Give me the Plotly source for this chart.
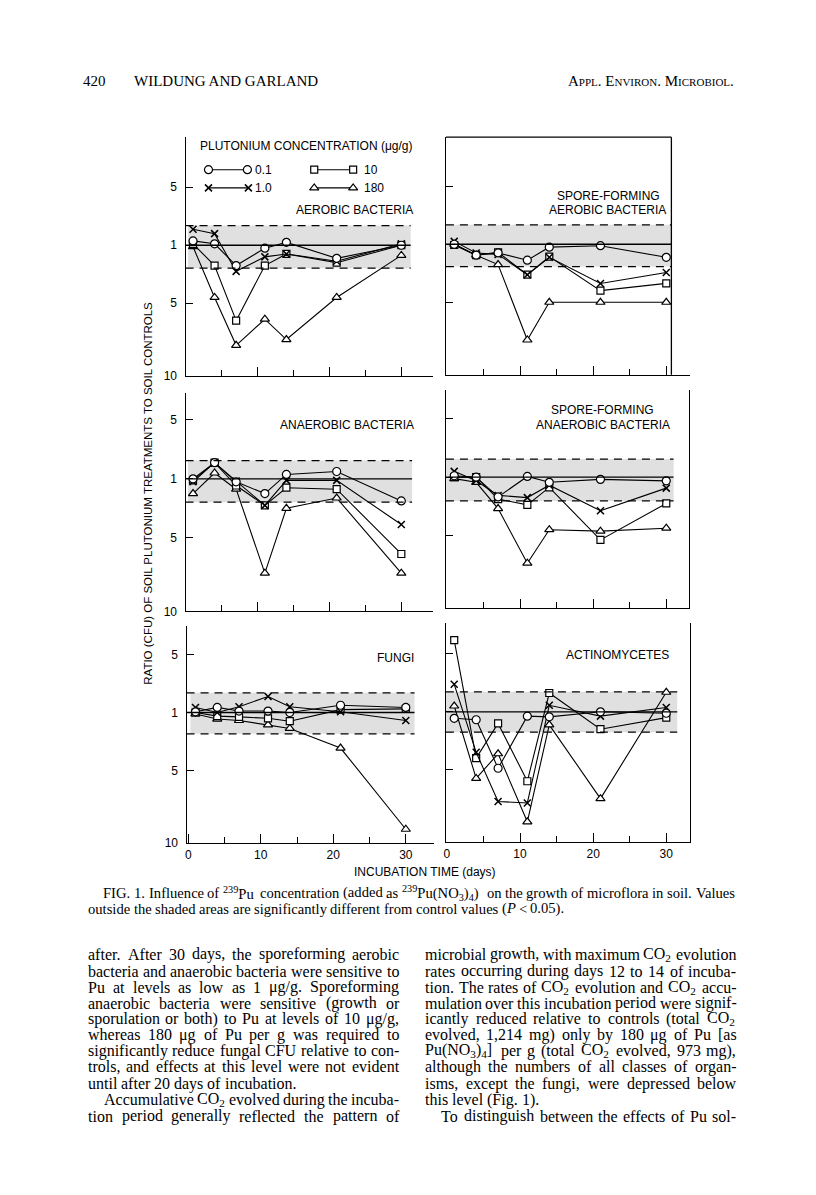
import re
import plotly.graph_objects as go

W, H = 816, 1195

# ---------------- data ----------------
days = [1, 4, 7, 11, 14, 21, 30]
concentrations = ["0.1", "1.0", "10", "180"]

# signed fold change vs. soil control: f >= 1 -> ratio f ; f <= -1 -> ratio 1/|f|
aerobic_01 = [1.3, 1.1, -2.4, -1.2, 1.2, -1.9, 1.0]
aerobic_1 = [2.1, 1.8, -2.8, -1.8, -1.6, -2.1, 1.1]
aerobic_10 = [1.1, -2.4, -6.2, -2.4, -1.6, -2.2, 1.0]
aerobic_180 = [-1.1, -4.6, -7.9, -6.1, -7.5, -4.6, -1.7]

spore_aerobic_01 = [1.0, -1.75, -1.6, -2.1, -1.2, -1.1, -1.9]
spore_aerobic_1 = [1.2, -1.6, -1.7, -3.1, -1.9, -3.7, -2.95]
spore_aerobic_10 = [-1.05, -1.75, -1.55, -3.1, -1.85, -4.2, -3.7]
spore_aerobic_180 = [1.0, -1.75, -2.4, -7.6, -5.0, -5.0, -5.0]

anaerobic_01 = [1.0, 2.1, -1.2, -2.0, 1.3, 1.5, -2.5]
anaerobic_1 = [-1.2, 2.1, -1.15, -2.8, -1.1, -1.1, -4.1]
anaerobic_10 = [-1.1, 2.1, -1.45, -2.8, -1.6, -1.7, -6.1]
anaerobic_180 = [-2.0, 1.4, -1.7, -7.4, -3.0, -2.3, -7.4]

spore_anaerobic_01 = [1.1, 1.0, -2.35, 1.05, -1.35, -1.15, -1.25]
spore_anaerobic_1 = [1.4, -1.25, -2.25, -2.4, -1.55, -3.3, -1.75]
spore_anaerobic_10 = [1.0, 1.0, -2.5, -2.9, -1.7, -5.3, -2.8]
spore_anaerobic_180 = [-1.1, -1.35, -3.15, -6.9, -4.6, -4.7, -4.5]

fungi_01 = [1.05, 1.35, 1.1, 1.1, 1.0, 1.5, 1.35]
fungi_1 = [1.35, 1.0, 1.4, 2.1, 1.4, 1.05, -1.55]
fungi_10 = [1.0, -1.25, -1.3, -1.4, -1.6, 1.2, 1.25]
fungi_180 = [-1.1, -1.45, -1.55, -1.85, -2.1, -3.45, -9.05]

actino_01 = [-1.45, -1.55, -4.9, -1.3, -1.35, 1.0, -1.1]
actino_1 = [2.9, -3.8, -7.2, -7.3, 1.45, -1.3, 1.3]
actino_10 = [5.95, -4.2, -1.8, -5.8, 2.3, -2.2, -1.4]
actino_180 = [1.4, -5.6, -3.9, -8.6, -1.9, -7.0, 2.35]

# significance limits (upper, lower) of the shaded band, signed fold
limits_aerobic = (2.36, -2.58)
limits_spore_aerobic = (2.34, -2.54)
limits_anaerobic = (2.24, -2.58)
limits_spore_anaerobic = (2.24, -2.63)
limits_fungi = (2.36, -2.47)
limits_actino = (2.38, -2.41)

y_tick_vals = [5, 1, -5, -10]
y_tick_text = ["5", "1", "5", "10"]
x_tick_vals = [0, 10, 20, 30]
x_tick_text = ["0", "10", "20", "30"]
x_minor_vals = [5, 15, 25]


def pos(f):
    """signed fold -> linear axis position (1 at zero)"""
    return f - 1 if f >= 1 else f + 1


SANS = "Liberation Sans, Arial, Helvetica, sans-serif"
SERIF = "Liberation Serif, Times New Roman, serif"

# ---------------- panel layout ----------------
panels = [
    dict(series=[aerobic_01, aerobic_1, aerobic_10, aerobic_180], lim=limits_aerobic,
         xpx=(184, 432), ypx=(138, 378), y1=246.7, d0=184.3, ds=7.2, band0=0.3, end=31.3,
         labels=False),
    dict(series=[spore_aerobic_01, spore_aerobic_1, spore_aerobic_10, spore_aerobic_180],
         lim=limits_spore_aerobic, xpx=(445, 690), ypx=(138, 377), y1=245.7, d0=446, ds=7.33,
         band0=-0.1, end=30.7, labels=False),
    dict(series=[anaerobic_01, anaerobic_1, anaerobic_10, anaerobic_180], lim=limits_anaerobic,
         xpx=(184, 432), ypx=(395, 615), y1=481.7, d0=184.3, ds=7.2, band0=0.3, end=31.5,
         labels=False),
    dict(series=[spore_anaerobic_01, spore_anaerobic_1, spore_anaerobic_10, spore_anaerobic_180],
         lim=limits_spore_anaerobic, xpx=(445, 689), ypx=(392, 612), y1=480, d0=446, ds=7.33,
         band0=-0.1, end=31.0, labels=False),
    dict(series=[fungi_01, fungi_1, fungi_10, fungi_180], lim=limits_fungi,
         xpx=(185, 433), ypx=(630, 848), y1=716.7, d0=186.7, ds=7.27, band0=0.3, end=31.2,
         labels=True),
    dict(series=[actino_01, actino_1, actino_10, actino_180], lim=limits_actino,
         xpx=(445, 690), ypx=(627, 847), y1=716, d0=446, ds=7.33, band0=-0.1, end=31.5,
         labels=True),
]

marker_style = {
    "0.1": dict(symbol="circle", size=8, color="white", line=dict(color="black", width=1.2)),
    "1.0": dict(symbol="x-thin", size=7, color="black", line=dict(color="black", width=1.5)),
    "10": dict(symbol="square", size=7, color="white", line=dict(color="black", width=1.2)),
    "180": dict(symbol="triangle-up", size=8, color="white", line=dict(color="black", width=1.2)),
}

fig = go.Figure()
layout = dict(
    width=W, height=H, margin=dict(l=0, r=0, t=0, b=0),
    paper_bgcolor="white", plot_bgcolor="rgba(0,0,0,0)", showlegend=False,
    font=dict(family=SANS, size=12, color="black"),
)
shapes = []
annotations = []

for i, p in enumerate(panels, start=1):
    xs = "" if i == 1 else str(i)
    xa, ya = "x" + xs, "y" + xs
    bottom, top = p["ypx"][1], p["ypx"][0]
    unit = (bottom - p["y1"]) / 9.0
    ytop = (p["y1"] - top) / unit
    xr = [(p["xpx"][0] - p["d0"]) / p["ds"], (p["xpx"][1] - p["d0"]) / p["ds"]]
    right_col = i % 2 == 0
    layout["xaxis" + xs] = dict(
        domain=[p["xpx"][0] / W, p["xpx"][1] / W], range=xr, anchor=ya,
        showline=True, linecolor="black", linewidth=1.3, showgrid=False, zeroline=False,
        tickmode="array", tickvals=x_tick_vals, ticktext=x_tick_text,
        ticks="inside", ticklen=9, tickwidth=1.2, tickcolor="black",
        showticklabels=p["labels"], tickfont=dict(size=12, family=SANS),
        minor=dict(tickvals=x_minor_vals, ticks="inside", ticklen=6, tickwidth=1.2,
                   tickcolor="black", showgrid=False),
        fixedrange=True,
    )
    layout["yaxis" + xs] = dict(
        domain=[1 - bottom / H, 1 - top / H], range=[-9, ytop], anchor=xa,
        showline=True, linecolor="black", linewidth=1.3, showgrid=False, zeroline=False,
        mirror=(i in (4, 6)),
        tickmode="array", tickvals=[pos(v) for v in y_tick_vals], ticktext=y_tick_text,
        ticks="inside", ticklen=7, tickwidth=1.2, tickcolor="black",
        showticklabels=not right_col, tickfont=dict(size=12, family=SANS),
        ticklabelstandoff=5, fixedrange=True,
    )
    up, lo = p["lim"]
    shapes.append(dict(type="rect", xref=xa, yref=ya, x0=p["band0"], x1=p["end"],
                       y0=pos(lo), y1=pos(up), fillcolor="#e0e0e0", line=dict(width=0),
                       layer="below"))
    for lv in (up, lo):
        shapes.append(dict(type="line", xref=xa, yref=ya, x0=xr[0], x1=p["end"],
                           y0=pos(lv), y1=pos(lv),
                           line=dict(color="black", width=1.3, dash="8px,6px")))
    shapes.append(dict(type="line", xref=xa, yref=ya, x0=xr[0], x1=p["end"], y0=0, y1=0,
                       line=dict(color="black", width=1.3)))
    # series: draw 180 first, 0.1 last
    for name, vals in reversed(list(zip(concentrations, p["series"]))):
        fig.add_trace(go.Scatter(
            x=days, y=[pos(v) for v in vals], xaxis=xa, yaxis=ya, mode="lines+markers",
            line=dict(color="black", width=1.1), marker=marker_style[name],
            cliponaxis=False, hoverinfo="skip"))

# top-right panel: box top and right edge
shapes.append(dict(type="line", xref="x2", yref="y2 domain", x0=30.7, x1=30.7, y0=0, y1=1,
                   line=dict(color="black", width=1.3)))
shapes.append(dict(type="line", xref="x2", yref="y2 domain", x0=-0.14, x1=30.7, y0=1, y1=1,
                   line=dict(color="black", width=1.3)))

# pixel overlay axis for the legend glyphs
layout["xaxis7"] = dict(domain=[0, 1], range=[0, W], visible=False, anchor="y7", fixedrange=True)
layout["yaxis7"] = dict(domain=[0, 1], range=[H, 0], visible=False, anchor="x7", fixedrange=True)
legend_items = [("0.1", 207, 246, 170.7, 254), ("10", 313, 352, 170.7, 363),
                ("1.0", 207, 247, 189, 254), ("180", 313, 352, 189, 363)]
for name, xa_, xb_, yy, lx in legend_items:
    fig.add_trace(go.Scatter(x=[xa_, xb_], y=[yy, yy], xaxis="x7", yaxis="y7",
                             mode="lines+markers", line=dict(color="black", width=1.1),
                             marker=marker_style[name], hoverinfo="skip"))


def ann(text, x, y, size=12, family=SANS, xanchor="left", yanchor="middle", angle=0):
    annotations.append(dict(text=text, x=x / W, y=1 - y / H, xref="paper", yref="paper",
                            xanchor=xanchor, yanchor=yanchor, showarrow=False,
                            textangle=angle, borderpad=0, borderwidth=0,
                            font=dict(size=size, family=family, color="black")))


for name, xa_, xb_, yy, lx in legend_items:
    ann(name, lx, yy)
ann("PLUTONIUM CONCENTRATION (μg/g)", 305, 147, xanchor="center")
ann("AEROBIC BACTERIA", 412, 211, xanchor="right")
ann("SPORE-FORMING", 608, 196.7, xanchor="center")
ann("AEROBIC BACTERIA", 607, 211.7, xanchor="center")
ann("ANAEROBIC BACTERIA", 413, 427.7, xanchor="right")
ann("SPORE-FORMING", 602, 412.7, xanchor="center")
ann("ANAEROBIC BACTERIA", 602, 427.3, xanchor="center")
ann("FUNGI", 413, 662.3, xanchor="right")
ann("ACTINOMYCETES", 669, 659, xanchor="right")
ann("INCUBATION TIME (days)", 353, 877)
ann("RATIO (CFU) OF SOIL PLUTONIUM TREATMENTS TO SOIL CONTROLS", 146, 496, size=11.5,
    xanchor="center", angle=-90)

# ---------------- page text ----------------
TW = {" ": 250, "!": 333, "(": 333, ")": 333, ",": 250, "-": 333, ".": 250, "/": 278,
      ":": 278, ";": 278, "<": 564, "[": 333, "]": 333, "μ": 540,
      "A": 722, "B": 667, "C": 667, "D": 722, "E": 611, "F": 556, "G": 722, "H": 722,
      "I": 333, "J": 389, "K": 722, "L": 611, "M": 889, "N": 722, "O": 722, "P": 556,
      "Q": 722, "R": 667, "S": 556, "T": 611, "U": 722, "V": 722, "W": 944, "X": 722,
      "Y": 722, "Z": 611,
      "a": 444, "b": 500, "c": 444, "d": 500, "e": 444, "f": 333, "g": 500, "h": 500,
      "i": 278, "j": 278, "k": 500, "l": 278, "m": 778, "n": 500, "o": 500, "p": 500,
      "q": 500, "r": 333, "s": 389, "t": 278, "u": 500, "v": 500, "w": 722, "x": 500,
      "y": 500, "z": 444}


def text_w(s, fs):
    s = s.replace("&lt;", "<")
    w = 0.0
    extra = 0.0
    for part in re.split(r"(<su[bp]>.*?</su[bp]>)", s):
        m = re.match(r"<su[bp]>(.*?)</su[bp]>", part)
        if m:
            w += sum(TW.get(c, 500) for c in m.group(1)) * 0.75
            extra += 1.0
        else:
            w += sum(TW.get(c, 500) for c in re.sub(r"<[^>]+>", "", part))
    return w * fs / 1000.0 + extra


def place_line(line, x0, x1, y, fs, justify=True, indent=0.0):
    words = line.split(" ")
    x0 = x0 + indent
    ws = [text_w(w, fs) for w in words]
    gap = (x1 - x0 - sum(ws)) / (len(words) - 1) if (justify and len(words) > 1) else 0.25 * fs
    x = x0
    for w, ww in zip(words, ws):
        ann(w, x, y, size=fs, family=SERIF)
        x += ww + gap


# running head
ann("420", 81, 81, size=15, family=SERIF)
ann("WILDUNG AND GARLAND", 132, 81, size=15, family=SERIF)
sc = "<span style='font-size:11px'>"
ann(f"A{sc}PPL</span>. E{sc}NVIRON</span>. M{sc}ICROBIOL</span>.", 734, 81, size=15,
    family=SERIF, xanchor="right")

# caption
caption_1 = ("FIG. 1. Influence of <sup>239</sup>Pu concentration (added as "
             "<sup>239</sup>Pu(NO<sub>3</sub>)<sub>4</sub>) on the growth of microflora in soil. Values")
caption_2 = ("outside the shaded areas are significantly different from control values "
             "(<i>P</i> &lt; 0.05).")
place_line(caption_1, 86, 736, 898, 14.6, justify=True, indent=15.4)
place_line(caption_2, 86, 736, 914, 14.6, justify=False)

left_lines = [
    "after. After 30 days, the sporeforming aerobic",
    "bacteria and anaerobic bacteria were sensitive to",
    "Pu at levels as low as 1 μg/g. Sporeforming",
    "anaerobic bacteria were sensitive (growth or",
    "sporulation or both) to Pu at levels of 10 μg/g,",
    "whereas 180 μg of Pu per g was required to",
    "significantly reduce fungal CFU relative to con-",
    "trols, and effects at this level were not evident",
    "until after 20 days of incubation.",
    "Accumulative CO<sub>2</sub> evolved during the incuba-",
    "tion period generally reflected the pattern of",
]
right_lines = [
    "microbial growth, with maximum CO<sub>2</sub> evolution",
    "rates occurring during days 12 to 14 of incuba-",
    "tion. The rates of CO<sub>2</sub> evolution and CO<sub>2</sub> accu-",
    "mulation over this incubation period were signif-",
    "icantly reduced relative to controls (total CO<sub>2</sub>",
    "evolved, 1,214 mg) only by 180 μg of Pu [as",
    "Pu(NO<sub>3</sub>)<sub>4</sub>] per g (total CO<sub>2</sub> evolved, 973 mg),",
    "although the numbers of all classes of organ-",
    "isms, except the fungi, were depressed below",
    "this level (Fig. 1).",
    "To distinguish between the effects of Pu sol-",
]
line_y = [960, 977, 993, 1009, 1025, 1041, 1057, 1073, 1090, 1106, 1123]
left_ragged = {8}
left_indent = {9}
right_ragged = {9}
right_indent = {10}
for k, (ln, yy) in enumerate(zip(left_lines, line_y)):
    place_line(ln, 86, 398, yy, 16, justify=k not in left_ragged,
               indent=16 if k in left_indent else 0)
for k, (ln, yy) in enumerate(zip(right_lines, line_y)):
    place_line(ln, 424, 736, yy, 16, justify=k not in right_ragged,
               indent=16 if k in right_indent else 0)

layout["shapes"] = shapes
layout["annotations"] = annotations
fig.update_layout(**layout)
fig.write_html(
    "out.html",
    config={"displayModeBar": False},
    post_script="document.body.style.margin='0';document.documentElement.style.margin='0';"
                "document.body.style.overflow='hidden';",
)
